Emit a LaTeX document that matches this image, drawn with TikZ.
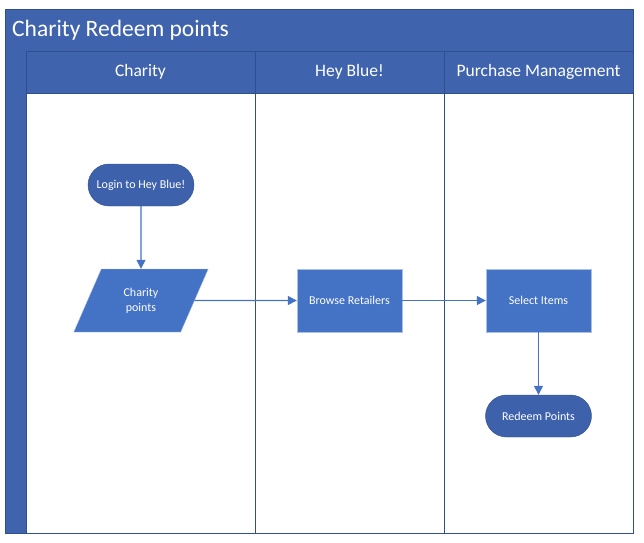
\documentclass[tikz,border=0pt]{standalone}
\usepackage{fontspec}
\setmainfont{Carlito}
\usetikzlibrary{shapes.geometric,arrows.meta}
\definecolor{laneblue}{HTML}{3F63AD}
\definecolor{laneedge}{HTML}{2F4F8F}
\definecolor{boxblue}{HTML}{4472C4}
\definecolor{boxedge}{HTML}{A9C1E8}
\definecolor{termblue}{HTML}{3D61AA}
\begin{document}
\begin{tikzpicture}[x=1pt,y=-1pt,
    lanehead/.style={draw=laneedge,fill=laneblue,text=white,minimum height=42,inner sep=0,font=\fontsize{17.5}{20}\selectfont},
    process/.style={draw=boxedge,fill=boxblue,text=white,minimum width=105,minimum height=63,inner sep=0,font=\fontsize{12}{14}\selectfont},
    terminal/.style={draw=laneedge,fill=termblue,text=white,rounded corners=21,minimum width=106,minimum height=42,inner sep=0,font=\fontsize{12}{14}\selectfont},
    flow/.style={draw=boxblue,line width=1.3,-{Triangle[length=9,width=9]}}]
    \useasboundingbox (0,0) rectangle (644,542);

    % pool and lanes
    \fill[laneblue] (5,9) rectangle (633,51);
    \fill[laneblue] (5,51) rectangle (26,533);
    \draw[laneedge] (5,9) rectangle (633,533);
    \node[anchor=west,inner sep=0,text=white,font=\fontsize{23.5}{26}\selectfont] (pooltitle) at (12,30) {Charity Redeem points};
    \node[lanehead,minimum width=229] (charitylane) at (140.5,72) {Charity};
    \node[lanehead,minimum width=189] (heybluelane) at (349.5,72) {Hey Blue!};
    \node[lanehead,minimum width=189] (purchaselane) at (538.5,72) {Purchase Management};
    \draw[laneedge] (26,51) -- (26,533);
    \draw[laneedge] (255,93) -- (255,533);
    \draw[laneedge] (444,93) -- (444,533);

    % shapes
    \node[terminal] (login) at (141,185) {Login to Hey Blue!};
    \node[trapezium,trapezium stretches=true,trapezium left angle=64.5,trapezium right angle=115.5,draw=boxedge,fill=boxblue,text=white,minimum width=135,minimum height=63,inner sep=0,align=center,font=\fontsize{12}{15}\selectfont] (points) at (141,300.5) {Charity\\points};
    \node[process] (browse) at (349.5,300.5) {Browse Retailers};
    \node[process] (select) at (538.5,300.5) {Select Items};
    \node[terminal] (redeem) at (538.5,416) {Redeem Points};

    % connectors
    \draw[flow] (login) -- (points);
    \draw[flow] (points.east) -- (browse);
    \draw[flow] (browse) -- (select);
    \draw[flow] (select) -- (redeem);
\end{tikzpicture}
\end{document}
